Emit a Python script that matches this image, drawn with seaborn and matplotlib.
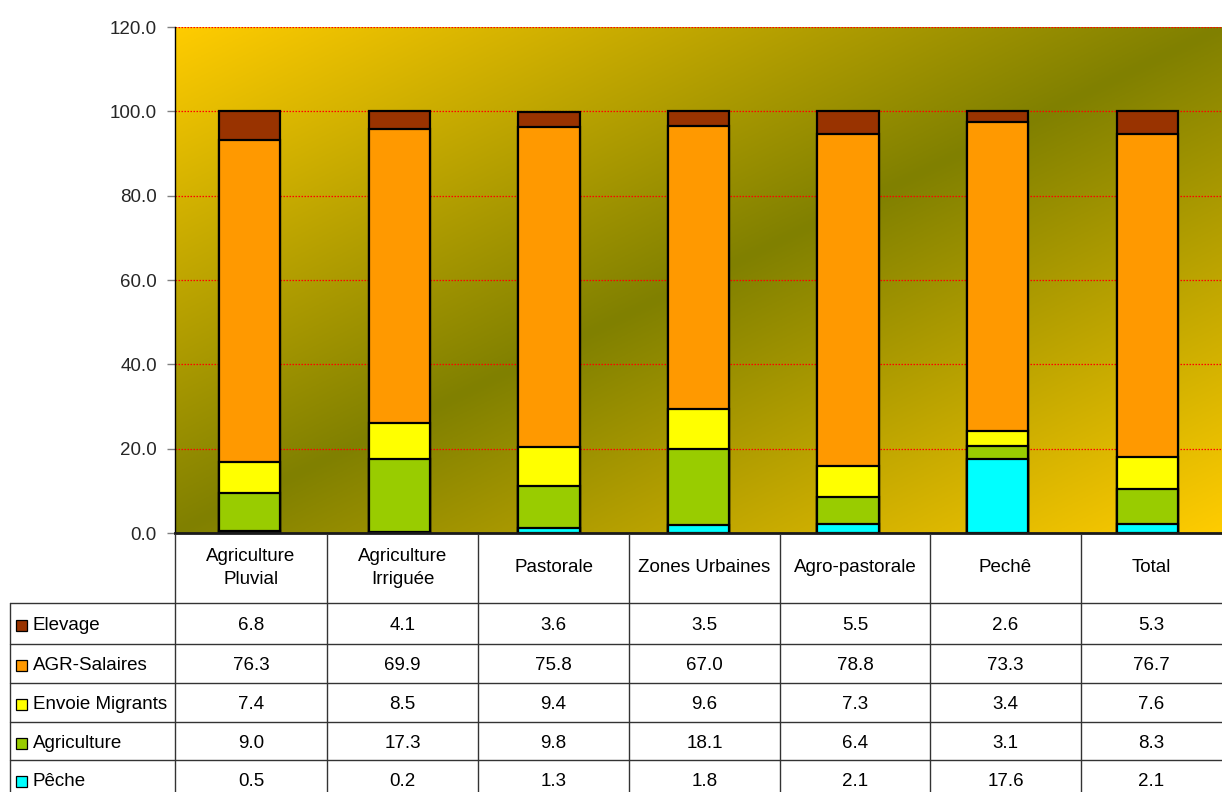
import numpy as np
import pandas as pd
import matplotlib
matplotlib.use("Agg")
import matplotlib.pyplot as plt
import seaborn as sns
from matplotlib.patches import Rectangle
from matplotlib.lines import Line2D

# ---------------- data ----------------
categories = ["Agriculture\nPluvial", "Agriculture\nIrriguée", "Pastorale",
              "Zones Urbaines", "Agro-pastorale", "Pechê", "Total"]
series_names = ["Elevage", "AGR-Salaires", "Envoie Migrants", "Agriculture", "Pêche"]
elevage = [6.8, 4.1, 3.6, 3.5, 5.5, 2.6, 5.3]
agr_salaires = [76.3, 69.9, 75.8, 67.0, 78.8, 73.3, 76.7]
envoie_migrants = [7.4, 8.5, 9.4, 9.6, 7.3, 3.4, 7.6]
agriculture = [9.0, 17.3, 9.8, 18.1, 6.4, 3.1, 8.3]
peche = [0.5, 0.2, 1.3, 1.8, 2.1, 17.6, 2.1]
series_colors = ["#993300", "#FF9900", "#FFFF00", "#99CC00", "#00FFFF"]
yticks = [0, 20, 40, 60, 80, 100, 120]

series_values = [elevage, agr_salaires, envoie_migrants, agriculture, peche]

# ---------------- style ----------------
sns.set_theme(style="white")
plt.rcParams["font.family"] = ["Liberation Sans", "DejaVu Sans"]
FS = 13.5

W, H = 1222, 792
fig = plt.figure(figsize=(W / 100, H / 100), dpi=100)
ax = fig.add_axes([175 / W, 1 - 533 / H, (1222 - 175) / W, (533 - 27) / H])

# gradient background (yellow -> olive -> yellow along the diagonal)
yellow = np.array([255, 204, 0]) / 255
olive = np.array([128, 128, 0]) / 255
u = np.linspace(0, 1, 400)[None, :]
v = np.linspace(0, 1, 200)[:, None]
t = (u + v) / 2
w = 1 - np.abs(2 * t - 1)
img = yellow[None, None, :] * (1 - w[..., None]) + olive[None, None, :] * w[..., None]
ax.imshow(img, extent=[-0.5, 6.5, 0, 120], aspect="auto", zorder=0, origin="upper")

# stacked bars: draw cumulative totals from the top series down
stack_bottom_up = series_values[::-1]
cum = np.cumsum(np.array(stack_bottom_up), axis=0)  # cumulative tops, bottom->top
tops_top_down = cum[::-1]
for name, top, col in zip(series_names, tops_top_down, series_colors):
    df = pd.DataFrame({"cat": categories, "val": top})
    sns.barplot(data=df, x="cat", y="val", color=col, saturation=1,
                width=0.41, edgecolor="black", linewidth=1.6, ax=ax, zorder=2)

ax.set_xlim(-0.5, 6.5)
ax.set_ylim(0, 120)
ax.set_yticks(yticks)
ax.set_yticklabels([f"{y:.1f}" for y in yticks], fontsize=FS)
ax.set_xticks([])
ax.set_xlabel("")
ax.set_ylabel("")
ax.tick_params(axis="y", length=6, width=1, color="#808080", pad=7, left=True)
ax.set_axisbelow(True)
ax.yaxis.grid(True, color="#FF0000", linestyle=(0, (1.2, 1.2)), linewidth=0.9, zorder=1)
ax.xaxis.grid(False)
for s in ["top", "right"]:
    ax.spines[s].set_visible(False)
ax.spines["left"].set_color("black")
ax.spines["left"].set_linewidth(1.0)
ax.spines["bottom"].set_color("#1a1a1a")
ax.spines["bottom"].set_linewidth(2.0)
ax.spines["left"].set_zorder(5)
ax.spines["bottom"].set_zorder(5)

# ---------------- data table ----------------
ov = fig.add_axes([0, 0, 1, 1])
ov.set_xlim(0, W)
ov.set_ylim(H, 0)
ov.axis("off")
ov.patch.set_alpha(0)

col_edges = [175, 327, 478, 629, 780, 930, 1081, 1222]
row_edges = [603, 644, 683, 722, 760, 799]
lc = "#333333"

for x in col_edges[:-1]:
    ov.add_line(Line2D([x, x], [534, H], color=lc, lw=1.0))
ov.add_line(Line2D([10, 10], [603, H], color=lc, lw=1.0))
for y in row_edges[:-1]:
    ov.add_line(Line2D([10, W], [y, y], color=lc, lw=1.0))

# header
for i, cat in enumerate(categories):
    xc = (col_edges[i] + col_edges[i + 1]) / 2
    ov.text(xc, 568, cat, ha="center", va="center", fontsize=FS, linespacing=1.5, color="black")

# rows
for r, (name, vals, col) in enumerate(zip(series_names, series_values, series_colors)):
    yc = (row_edges[r] + row_edges[r + 1]) / 2 + 2
    ov.add_patch(Rectangle((16, yc - 5.5), 11, 11, facecolor=col, edgecolor="black", lw=0.9))
    ov.text(33, yc, name, ha="left", va="center", fontsize=FS, color="black")
    for i, val in enumerate(vals):
        xc = (col_edges[i] + col_edges[i + 1]) / 2
        ov.text(xc, yc, f"{val:.1f}", ha="center", va="center", fontsize=FS, color="black")

fig.savefig("out.png", dpi=100)
